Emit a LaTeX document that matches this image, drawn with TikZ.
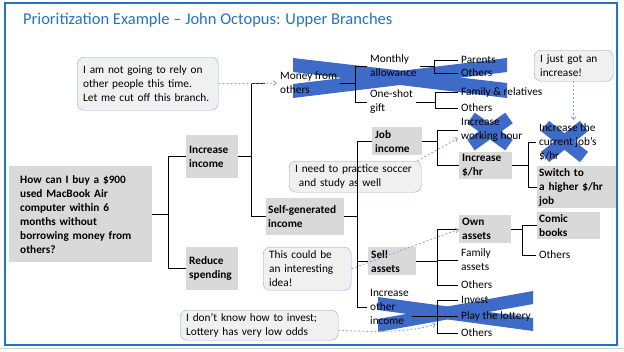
\documentclass[tikz,border=0pt]{standalone}
\usepackage{fontspec}
\setmainfont{Carlito}
\usepackage{xcolor}
\usepackage{tikz}
\usetikzlibrary{arrows.meta}
\definecolor{titleblue}{RGB}{36,114,196}
\definecolor{boxgray}{RGB}{217,217,217}
\definecolor{notegray}{RGB}{240,240,240}
\definecolor{noteblue}{RGB}{143,170,220}
\definecolor{crossblue}{RGB}{62,106,200}

\begin{document}
\begin{tikzpicture}[x=1pt, y=-1pt,
    bx/.style={fill=boxgray, font=\fontsize{11.3}{14}\selectfont\bfseries, align=left, anchor=north west, inner xsep=4pt, inner ysep=2pt},
    lf/.style={font=\fontsize{11.3}{14}\selectfont, align=left, anchor=west, inner sep=3pt},
    nt/.style={draw=noteblue, fill=notegray, rounded corners=7pt, font=\fontsize{11.3}{14}\selectfont, align=left, anchor=north west, inner xsep=6pt, inner ysep=2pt},
    br/.style={line width=1pt},
    lnk/.style={draw=noteblue, line width=0.9pt, dash pattern=on 2pt off 2pt, -{Straight Barb[length=3pt,width=5pt]}},
    xs/.style={fill=crossblue}
  ]
    \useasboundingbox (0,0) rectangle (624,351);
    \draw[titleblue, line width=2pt] (5,3) rectangle (617,345);
    \draw[gray!35, line width=1pt] (0,348.5) -- (624,348.5);
    \node[anchor=west, inner sep=0pt, text=titleblue, font=\fontsize{16.5}{19}\selectfont] (title) at (23,20) {Prioritization Example -- John Octopus: Upper Branches};

    \fill[xs] (293,58) -- (507,83) -- (507,98) -- (293,72) -- cycle;
    \fill[xs] (293,84) -- (507,58) -- (507,72) -- (293,98) -- cycle;
    \draw[crossblue, line width=13pt] (471,118) -- (509,145) (471,145) -- (509,118);
    \draw[crossblue, line width=13pt] (545,126) -- (584,157) (545,157) -- (584,126);
    \fill[xs] (378,297) -- (533,318) -- (533,331) -- (378,310) -- cycle;
    \fill[xs] (378,319) -- (533,291) -- (533,304) -- (378,332) -- cycle;

    \node[bx, inner xsep=11pt, text width=121pt, minimum height=96pt] (root) at (9,166) {How can I buy a \$900\\used MacBook Air\\computer within 6\\months without\\borrowing money from\\others?};
    \node[bx, inner xsep=3pt, text width=46pt, minimum height=43pt] (inc) at (186,135) {Increase\\income};
    \node[bx, inner xsep=3pt, text width=46pt, minimum height=43pt] (red) at (186,247) {Reduce\\spending};
    \node[lf] (money) at (277,83) {Money from\\others};
    \node[bx, inner xsep=2pt, text width=74pt, minimum height=37pt] (self) at (266,198) {Self-generated\\income};
    \node[lf] (monthly) at (367,66) {Monthly\\allowance};
    \node[lf] (oneshot) at (367,102) {One-shot\\gift};
    \node[lf] (parents) at (458,60) {Parents};
    \node[lf] (others1) at (458,73) {Others};
    \node[lf] (family) at (458,92) {Family \& relatives};
    \node[lf] (others2) at (458,108) {Others};
    \node[bx, inner xsep=3pt, text width=44pt, minimum height=28pt] (job) at (372,127) {Job\\income};
    \node[lf] (hours) at (458,130) {Increase\\working hour};
    \node[bx, inner xsep=3pt, text width=47pt, minimum height=26pt] (rate) at (459,152) {Increase\\\$/hr};
    \node[lf] (current) at (536,142) {Increase the\\current job’s\\\$/hr};
    \node[bx, inner xsep=2pt, text width=75pt, minimum height=41pt] (switch) at (537,166) {Switch to\\a higher \$/hr\\job};
    \node[bx, inner xsep=3pt, text width=42pt, minimum height=28pt] (sell) at (368,247) {Sell\\assets};
    \node[bx, inner xsep=3pt, text width=46pt, minimum height=28pt] (own) at (459,215) {Own\\assets};
    \node[lf] (famassets) at (458,260) {Family\\assets};
    \node[lf] (others3) at (458,285) {Others};
    \node[bx, inner xsep=2pt, text width=59pt, minimum height=27pt] (comic) at (537,212) {Comic\\books};
    \node[lf] (others4) at (536,255) {Others};
    \node[lf] (other) at (367,307) {Increase\\other\\income};
    \node[lf] (invest) at (458,300) {Invest};
    \node[lf] (lottery) at (458,316) {Play the lottery};
    \node[lf] (others5) at (458,333) {Others};

    \node[nt, text width=129pt, minimum height=53pt] (n1) at (77,57) {I am not going to rely on\\other people this time.\\Let me cut off this branch.};
    \node[nt, text width=120pt, minimum height=31pt] (n2) at (289,161) {I need to practice soccer\\\ and study as well};
    \node[nt, text width=67pt, minimum height=31pt] (n3) at (534,50) {I just got an\\increase!};
    \node[nt, text width=76pt, minimum height=43pt] (n4) at (263,247) {This could be\\an interesting\\idea!};
    \node[nt, text width=146pt, minimum height=30pt] (n5) at (180,310) {I don’t know how to invest;\\Lottery has very low odds};

    \draw[br] (root.east) -- ++(16,0) coordinate (k0);
    \draw[br] (k0) |- (inc.west);
    \draw[br] (k0) |- (red.west);
    \draw[br] (inc.east) -- ++(13,0) coordinate (k1);
    \draw[br, shorten >=12pt] (k1) |- (money.west);
    \draw[br] (k1) |- (self.west);
    \draw[br] (money.east) -- ++(15,0) coordinate (k2);
    \draw[br] (k2) |- (monthly.west);
    \draw[br] (k2) |- (oneshot.west);
    \draw[br] (monthly.east) -- ++(15,0) coordinate (k3);
    \draw[br] (k3) |- (parents.west);
    \draw[br] (k3) |- (others1.west);
    \draw[br] (oneshot.east) -- ++(19,0) coordinate (k4);
    \draw[br] (k4) |- (family.west);
    \draw[br] (k4) |- (others2.west);
    \draw[br] (self.east) -- ++(13,0) coordinate (k5);
    \draw[br] (k5) |- (job.west);
    \draw[br] (k5) |- (sell.west);
    \draw[br] (k5) |- (other.west);
    \draw[br] (job.east) -- ++(15,0) coordinate (k6);
    \draw[br] (k6) |- (hours.west);
    \draw[br] (k6) |- (rate.west);
    \draw[br] (rate.east) -- ++(16,0) coordinate (k7);
    \draw[br] (k7) |- (current.west);
    \draw[br] (k7) |- (switch.west);
    \draw[br] (sell.east) -- ++(21,0) coordinate (k8);
    \draw[br] (k8) |- (own.west);
    \draw[br] (k8) |- (famassets.west);
    \draw[br] (k8) |- (others3.west);
    \draw[br] (own.east) -- ++(11,0) coordinate (k9);
    \draw[br] (k9) |- (comic.west);
    \draw[br] (k9) |- (others4.west);
    \draw[br] (other.east |- lottery.west) -- ++(26,0) coordinate (k10);
    \draw[br] (k10) |- (invest.west);
    \draw[br] (k10) -- (lottery.west);
    \draw[br] (k10) |- (others5.west);

    \coordinate (oddsend) at (436,324);
    \draw[lnk] (n1.east) -- (money.west);
    \draw[lnk] ([xshift=-4pt]n2.north east) -- ([yshift=-8pt]hours.west);
    \draw[lnk] (n3.south) -- (n3.south |- current.north);
    \draw[lnk] (n4.east) -- (own.west);
    \draw[lnk] ([yshift=-5pt]n5.east) .. controls (385,333) and (415,331) .. (oddsend);
  \end{tikzpicture}
\end{document}
